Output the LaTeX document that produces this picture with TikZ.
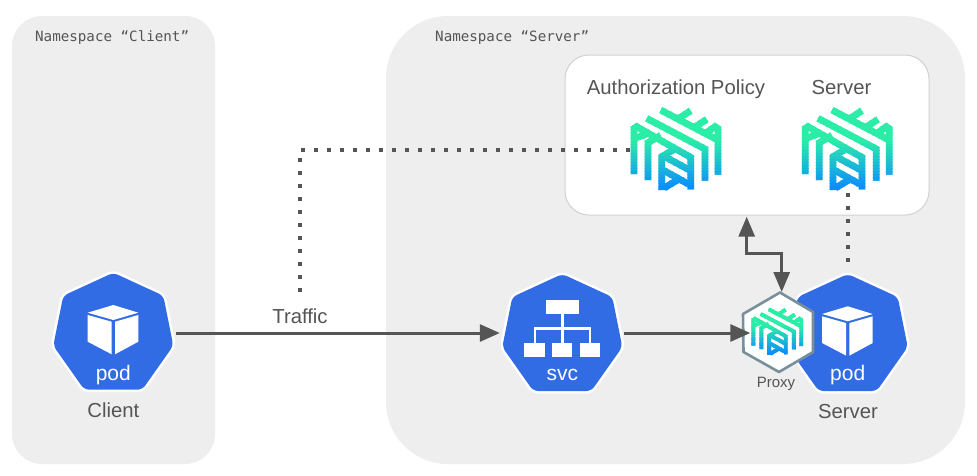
\documentclass[tikz,border=0pt]{standalone}
\usepackage{fontspec}
\setmainfont{Liberation Sans}
\newfontfamily\monof{DejaVu Sans Mono}
\usetikzlibrary{arrows.meta}
\definecolor{panel}{HTML}{EEEEEE}
\definecolor{kblue}{HTML}{326CE5}
\definecolor{ink}{HTML}{555555}
\definecolor{lkgreen}{HTML}{2BEDA7}
\definecolor{lkblue}{HTML}{0A8CFF}
\definecolor{hexedge}{HTML}{78909C}
\tikzset{
  x=1pt,y=-1pt,
  panelbox/.style={fill=panel,draw=none},
  lab/.style={text=ink,font=\fontsize{20.3}{24}\selectfont,inner sep=0pt,anchor=base},
  monolab/.style={text=ink,font=\monof\fontsize{14.2}{17}\selectfont,inner sep=0pt,anchor=base west},
  iconlab/.style={text=white,font=\fontsize{21}{24}\selectfont,inner sep=0pt,anchor=base},
  anchorbox/.style={inner sep=0pt,minimum height=10pt},
  flow/.style={draw=ink,line width=3pt,-{Triangle[length=20pt,width=17pt]}},
  flowboth/.style={draw=ink,line width=3pt,{Triangle[length=20pt,width=16pt]}-{Triangle[length=20pt,width=16pt]}},
  dots/.style={draw=ink,line width=4pt,dash pattern=on 4pt off 9pt},
}
\newcommand{\kubeshape}[2]{%
  \begin{scope}[shift={(#1,#2)}]
    \path[draw=white,fill=kblue,line width=5pt,rounded corners=5pt]
      (0,0)--(50,23)--(60,73)--(29,117)--(-29,117)--(-60,73)--(-50,23)--cycle;
    \path[fill=kblue,rounded corners=5pt]
      (0,0)--(50,23)--(60,73)--(29,117)--(-29,117)--(-60,73)--(-50,23)--cycle;
  \end{scope}}
\newcommand{\cubeicon}[2]{%
  \begin{scope}[shift={(#1,#2)}]
    \fill[white] (0,32.3)--(25,40)--(0,47.3)--(-25.6,40)--cycle;
    \fill[white] (-25.6,42.3)--(-1.6,49)--(-1.6,81.6)--(-25.6,69)--cycle;
    \fill[white] (1.7,49)--(25,42.3)--(25,69)--(1.7,81.6)--cycle;
  \end{scope}}
\newcommand{\logostrokes}{%
  \draw (122,30)--(297,122);
  \draw (172,58)--(212,32);
  \draw (220,84)--(260,58);
  \draw (294,224)--(294,86)--(285,80)--(262,96);
  \draw (80,55)--(255,147)--(255,242);
  \draw (42,222)--(42,85)--(50,80)--(85,100);
  \draw (36,118)--(85,100)--(212,172)--(212,268);
  \draw (84,240)--(84,128)--(122,106);
  \draw (125,270)--(125,170)--(162,148);
  \draw (125,165)--(212,212);
  \draw (125,208)--(205,252);
  \draw (132,264)--(172,240);
}
\newcommand{\linkerdlogo}[3]{%
  \begin{scope}[shift={(#1,#2)},scale=#3/3,shift={(-170,-150)},line width=#3*6.8pt,line join=miter]
    \foreach \i in {0,...,29}{
      \pgfmathsetmacro{\ya}{15+\i*9}
      \pgfmathsetmacro{\yb}{\ya+10}
      \pgfmathtruncatemacro{\mixv}{max(0,min(100,(\ya-115)/1.45))}
      \begin{scope}
        \clip (0,\ya) rectangle (340,\yb);
        \begin{scope}[color=lkblue!\mixv!lkgreen]
          \logostrokes
        \end{scope}
      \end{scope}
    }
  \end{scope}}
\begin{document}
\begin{tikzpicture}
\useasboundingbox (0,0) rectangle (977,475);
\fill[white] (0,0) rectangle (977,475);
% panels
\path[panelbox,rounded corners=30pt] (12,16) rectangle (215,464);
\path[panelbox,rounded corners=62pt] (386,16) rectangle (965,464);
\node[monolab] (nsclient) at (35,41) {Namespace “Client”};
\node[monolab] (nsserver) at (435,41) {Namespace “Server”};
% policy box
\node[draw=black!18,fill=white,line width=1pt,rounded corners=24pt,minimum width=364pt,minimum height=160pt,inner sep=0pt] (policy) at (747,135) {};
\node[lab] (lpolicy) at (676,94) {Authorization Policy};
\node[lab] (lserver) at (841.5,94) {Server};
% anchors
\node[anchorbox,minimum width=126pt] (client) at (113,333) {};
\node[anchorbox,minimum width=124pt] (svc) at (562,333) {};
\node[anchorbox,minimum width=56pt] (proxy) at (778.5,333) {};
\coordinate (authlogo) at (630,150);
\coordinate (srvlogo) at (848,193);
\coordinate (srvpod) at (848,268);
\coordinate (dotstart) at (300,292);
\coordinate (dotcorner) at (300,150);
\coordinate (upa) at (746.7,216.7);
\coordinate (upb) at (746.7,253.3);
\coordinate (upc) at (781.7,253.3);
\coordinate (upd) at (781.7,292);
% dotted
\draw[dots] (dotstart)--(dotcorner)--(authlogo);
\draw[dots] (srvlogo)--(srvpod);
% logos
\linkerdlogo{676.7}{150}{1}
\linkerdlogo{848}{150}{1}
% pods
\kubeshape{113.3}{272.7}
\cubeicon{113.3}{272.7}
\node[iconlab] (podc) at (113.3,380) {pod};
\node[lab] (lclient) at (113.3,417) {Client};
\kubeshape{847.7}{274}
\cubeicon{847.7}{274}
\node[iconlab] (pods) at (847.7,380) {pod};
\node[lab] (lsrv) at (848,418) {Server};
% svc
\kubeshape{562.3}{274}
\fill[white] (546,300) rectangle (579,314.3);
\draw[white,line width=2.5pt] (562.3,314)--(562.3,343);
\draw[white,line width=2.5pt] (535,343)--(535,328.3)--(590,328.3)--(590,343);
\fill[white] (524.3,342.7) rectangle (545,356.7);
\fill[white] (552.3,342.7) rectangle (572.3,356.7);
\fill[white] (580,342.7) rectangle (600,356.7);
\node[iconlab] (svctext) at (562.3,380.5) {svc};
% proxy
\path[draw=hexedge,fill=white,line width=2.6pt,line join=round] (780,292.5)--(813,312)--(813,352)--(779,372)--(743.5,352)--(743,314)--cycle;
\linkerdlogo{777.7}{332}{0.57}
\node[text=ink,font=\fontsize{15}{18}\selectfont,inner sep=0pt,anchor=base] (lproxy) at (776,387) {Proxy};
% connectors
\draw[flow] (client)--(svc);
\node[lab] (ltraffic) at (300,323) {Traffic};
\draw[flow] (svc)--(proxy);
\draw[flowboth] (upa)--(upb)--(upc)--(upd);
\end{tikzpicture}
\end{document}
